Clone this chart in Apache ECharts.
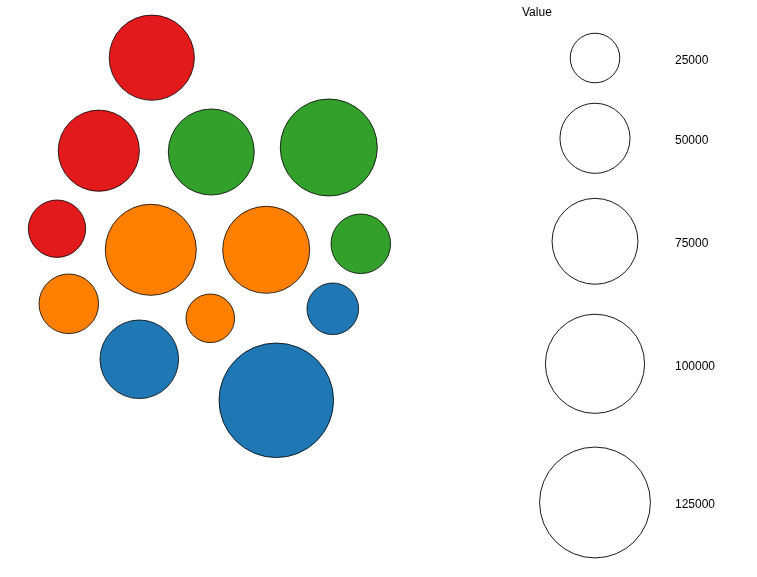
<!DOCTYPE html>
<html>
<head>
<meta charset="utf-8">
<script src="https://cdn.jsdelivr.net/npm/echarts@6/dist/echarts.min.js"></script>
<style>html,body{margin:0;padding:0;background:#fff}#c{width:757px;height:577px}</style>
</head>
<body>
<div id="c"></div>
<script>
// Bubble values and groups
var groups = ['red','red','green','green','red','orange','orange','green','orange','orange','blue','blue','blue'];
var values = [73800, 67000, 75200, 95700, 33500, 84200, 77000, 36100, 36100, 24000, 27100, 62800, 133500];
// packed layout centres (layout units)
var posX = [151.8, 98.8, 211.3, 328.8, 57.0, 150.8, 266.2, 360.8, 68.8, 210.3, 332.8, 139.3, 276.3];
var posY = [57.7, 150.7, 152.0, 147.5, 228.7, 249.8, 249.8, 243.8, 303.8, 318.3, 308.8, 359.3, 400.3];
var groupColors = {red:'#E31A1C', green:'#33A02C', orange:'#FF7F00', blue:'#1F78B4'};

// size legend
var legendTitle = 'Value';
var legendValues = [25000, 50000, 75000, 100000, 125000];
var legendLabels = ['25000', '50000', '75000', '100000', '125000'];
var legendX = 595;
var legendLabelX = 675;
var legendY = [58, 138.3, 241.3, 363.8, 502.5];

var K = 0.1568; // radius per sqrt(value)
function diam(v){ return 2 * K * Math.sqrt(v); }

var bubbleData = values.map(function(v, i){
  return {value:[posX[i], posY[i], v], itemStyle:{color: groupColors[groups[i]]}};
});
var legendData = legendValues.map(function(v, i){ return [legendX, legendY[i], v]; });
var labelData = legendLabels.map(function(t, i){ return {value:[legendLabelX, legendY[i]], name:t}; });

var chart = echarts.init(document.getElementById('c'), null, {renderer:'canvas'});
chart.setOption({
  animation:false,
  backgroundColor:'#ffffff',
  title:{text:legendTitle, left:522, top:7, padding:0, textStyle:{fontFamily:'Liberation Sans, Arial, sans-serif', fontSize:12, fontWeight:'normal', color:'#000'}},
  grid:{left:0, top:0, width:757, height:577},
  xAxis:{type:'value', min:0, max:757, show:false},
  yAxis:{type:'value', min:0, max:577, inverse:true, show:false},
  series:[
    {type:'scatter', data:bubbleData, symbol:'circle',
     symbolSize:function(d){ return diam(d[2]); },
     itemStyle:{borderColor:'#000', borderWidth:0.8, opacity:1}},
    {type:'scatter', data:legendData, symbol:'circle',
     symbolSize:function(d){ return diam(d[2]); },
     itemStyle:{color:'#fff', borderColor:'#000', borderWidth:0.9, opacity:1}},
    {type:'scatter', data:labelData, symbolSize:0, itemStyle:{opacity:1},
     label:{show:true, position:'right', distance:0, offset:[0,2.5], formatter:function(p){return p.name;},
            fontFamily:'Liberation Sans, Arial, sans-serif', fontSize:12, color:'#000'}}
  ]
});
</script>
</body>
</html>
